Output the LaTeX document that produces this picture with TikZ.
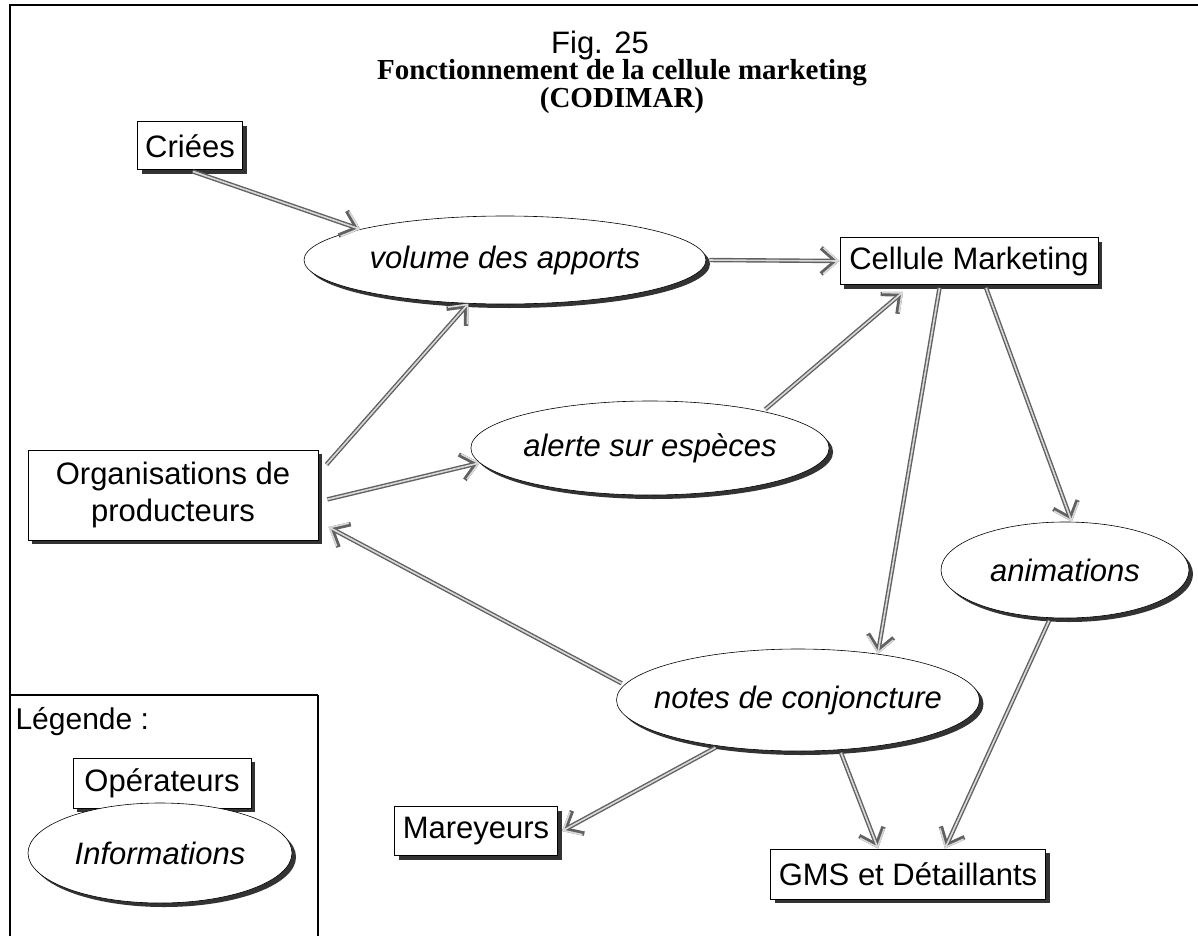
\documentclass[tikz,border=0pt]{standalone}
\usepackage{fontspec}
\setmainfont{Liberation Sans}
\newfontfamily\titleserif{Liberation Serif}
\usetikzlibrary{arrows.meta,shapes.geometric,shadows}
\tikzset{
  shd/.style={drop shadow={shadow xshift=4pt, shadow yshift=-4pt, fill=black!80, opacity=1}},
  opbox/.style={draw, line width=1pt, fill=white, rectangle, inner sep=0pt, shd,
    font=\fontsize{31}{37}\selectfont, align=center},
  info/.style={draw, line width=0.6pt, fill=white, ellipse, inner sep=0pt, shd,
    font=\fontsize{31}{36}\selectfont\itshape},
  tip/.style={-{Straight Barb[length=15pt,width=26pt]}},
  arr/.style={draw=black!15, line width=1.6pt, tip, shorten <=3pt,
    preaction={draw=black!62, line width=4.4pt, tip, shorten <=3pt}},
}
\begin{document}
\begin{tikzpicture}[x=1pt,y=-1pt]
\useasboundingbox (0,0) rectangle (1198,936);
\fill[white] (0,0) rectangle (1198,936);
% frame
\draw[line width=1.2pt] (1198,5) -- (10,5) -- (10,936);
% title
\node (fig) at (600,45) {\fontsize{31}{34}\selectfont Fig. 25};
\node (t1) at (622,73) {\titleserif\bfseries\fontsize{29}{32}\selectfont Fonctionnement de la cellule marketing};
\node (t2) at (622,101) {\titleserif\bfseries\fontsize{29}{32}\selectfont (CODIMAR)};
% legend frame
\draw[line width=1.4pt] (10,695) -- (318,695);
\draw[line width=2.2pt] (318,695) -- (318,936);
\node[anchor=west, font=\fontsize{30}{34}\selectfont] (leg) at (12,722) {Légende :};
\node[opbox, minimum width=178, minimum height=50] (ope) at (162,783) {Opérateurs};
\node[info, minimum width=264, minimum height=100] (inf) at (160,853) {Informations};
% nodes
\node[opbox, minimum width=105, minimum height=48] (crie) at (190,146) {Criées};
\node[info, minimum width=402, minimum height=88] (vol) at (505,260) {volume des apports};
\node[opbox, minimum width=258, minimum height=47] (cell) at (969,261) {Cellule Marketing};
\node[opbox, minimum width=290, minimum height=90] (org) at (173,495) {Organisations de\\producteurs};
\node[info, minimum width=356, minimum height=94] (alert) at (650,448) {alerte sur espèces};
\node[info, minimum width=248, minimum height=96] (anim) at (1065,570) {animations};
\node[info, inner xsep=-16pt, minimum width=363, minimum height=102] (notes) at (798,700) {notes de conjoncture};
\node[opbox, minimum width=163, minimum height=49] (mare) at (476,831) {Mareyeurs};
\node[opbox, minimum width=275, minimum height=50] (gms) at (908,874) {GMS et Détaillants};
% connectors
\draw[arr] (crie.south) -- (vol.168);
\draw[arr] (vol.east) -- (cell.west);
\draw[arr] ([xshift=6pt]org.11) -- (vol.230);
\draw[arr] ([xshift=6pt]org.-2) -- (alert.185);
\draw[arr] (alert.18) -- ([xshift=-66pt,yshift=-7pt]cell.south);
\draw[arr] ([xshift=-29pt]cell.south) -- (notes.30);
\draw[arr] ([xshift=16pt]cell.south) -- (anim.82);
\draw[arr] (notes.175) -- ([xshift=10pt,yshift=-32pt]org.east);
\draw[arr] (notes.210) -- ([xshift=4pt]mare.east);
\draw[arr] (notes.-50) -- ([xshift=-30pt]gms.north);
\draw[arr] (anim.253) -- ([xshift=37pt]gms.north);
\end{tikzpicture}
\end{document}
